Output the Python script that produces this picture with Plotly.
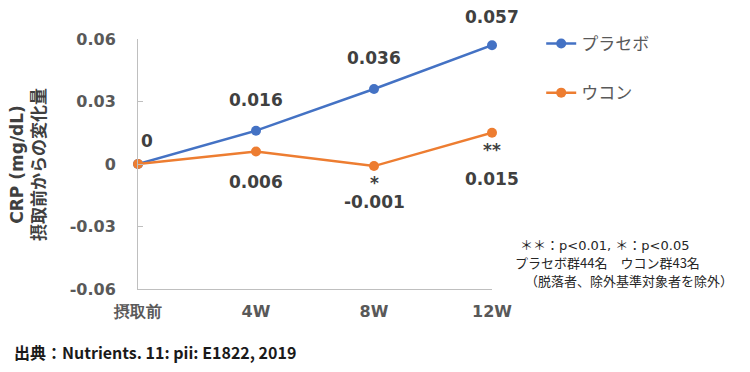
import plotly.graph_objects as go

categories = ["摂取前", "4W", "8W", "12W"]
placebo = [0, 0.016, 0.036, 0.057]
ukon = [0, 0.006, -0.001, 0.015]
placebo_labels = ["0", "0.016", "0.036", "0.057"]
ukon_labels = ["", "0.006", "-0.001", "0.015"]
ukon_sig = ["", "", "*", "**"]
series_names = ["プラセボ", "ウコン"]
y_ticks = [-0.06, -0.03, 0, 0.03, 0.06]
y_ticktext = ["-0.06", "-0.03", "0", "0.03", "0.06"]
note_lines = ["＊＊：p<0.01, ＊：p<0.05", "プラセボ群44名　ウコン群43名", "（脱落者、除外基準対象者を除外）"]

BLUE = "#4472C4"
ORANGE = "#ED7D31"
GRAY = "#595959"
DARK = "#404040"
NUM_FONT = "DejaVu Sans"
CJK_FONT = "Noto Sans CJK JP"

x_idx = list(range(len(categories)))

fig = go.Figure()
fig.add_trace(go.Scatter(
    x=x_idx, y=placebo, name=series_names[0], mode="lines+markers",
    line=dict(color=BLUE, width=2.5), marker=dict(size=10, color=BLUE),
    cliponaxis=False, legendgroup="a"))
fig.add_trace(go.Scatter(
    x=x_idx, y=ukon, name=series_names[1], mode="lines+markers",
    line=dict(color=ORANGE, width=2.5), marker=dict(size=10, color=ORANGE),
    cliponaxis=False, legendgroup="b"))

label_font = dict(family=NUM_FONT, size=17, color=DARK)
# placebo labels (above)
p_shift = [(9, 23), (0, 31), (0, 31), (0, 28)]
for i, (v, t) in enumerate(zip(placebo, placebo_labels)):
    fig.add_annotation(x=x_idx[i], y=v, text="<b>%s</b>" % t, showarrow=False,
                       xshift=p_shift[i][0], yshift=p_shift[i][1], font=label_font)
# ukon labels (below)
u_shift = [0, -30, -36, -46]
s_shift = [0, 0, -17, -17]
for i, (v, t) in enumerate(zip(ukon, ukon_labels)):
    if t:
        fig.add_annotation(x=x_idx[i], y=v, text="<b>%s</b>" % t, showarrow=False,
                           yshift=u_shift[i], font=label_font)
    if ukon_sig[i]:
        fig.add_annotation(x=x_idx[i], y=v, text="<b>%s</b>" % ukon_sig[i], showarrow=False,
                           yshift=s_shift[i], font=label_font)

# y-axis title
fig.add_annotation(xref="paper", yref="paper", x=-0.311, y=0.5, xanchor="center", yanchor="middle",
                   text="<span style='font-family:DejaVu Sans'><b>CRP (mg/dL)</b></span><br><b>摂取前からの変化量</b>",
                   textangle=-90,
                   showarrow=False, font=dict(family=CJK_FONT, size=17, color=DARK))

# note (three lines)
note_pos = [(1.073, 0.176, NUM_FONT), (1.059, 0.108, CJK_FONT), (1.088, 0.036, CJK_FONT)]
for line, (nx, ny, fam) in zip(note_lines, note_pos):
    fig.add_annotation(xref="paper", yref="paper", x=nx, y=ny, xanchor="left", yanchor="middle",
                       align="left", showarrow=False, text=line,
                       font=dict(family=fam + ", " + CJK_FONT, size=13, color="#262626"))

# source
fig.add_annotation(xref="paper", yref="paper", x=-0.356, y=-0.252, xanchor="left", yanchor="middle",
                   showarrow=False, text="<b>出典：Nutrients. 11: pii: E1822, 2019</b>",
                   font=dict(family=CJK_FONT, size=16, color="#1a1a1a"))

fig.update_layout(
    width=742, height=364,
    margin=dict(l=130, r=258, t=31, b=83),
    paper_bgcolor="white", plot_bgcolor="white",
    showlegend=True,
    legend=dict(x=1.139, y=1.052, xanchor="left", yanchor="top",
                font=dict(family=CJK_FONT, size=17, color=GRAY),
                tracegroupgap=24, bgcolor="rgba(0,0,0,0)"),
    xaxis=dict(range=[0, 3], tickvals=x_idx, ticktext=["<b>%s</b>" % c for c in categories],
               showgrid=False, zeroline=False, showline=True, linecolor="#BFBFBF", linewidth=1,
               ticks="outside", ticklen=8, tickcolor="rgba(0,0,0,0)",
               tickfont=dict(family=NUM_FONT, size=16, color=GRAY)),
    yaxis=dict(range=[-0.06, 0.06], tickvals=y_ticks, ticktext=["<b>%s</b>" % t for t in y_ticktext],
               showgrid=False, zeroline=False, showline=True, linecolor="#BFBFBF", linewidth=1,
               ticks="inside", ticklen=5, tickcolor="#BFBFBF", ticklabelstandoff=18,
               tickfont=dict(family=NUM_FONT, size=16, color=GRAY)),
)

fig.write_html("out.html")
